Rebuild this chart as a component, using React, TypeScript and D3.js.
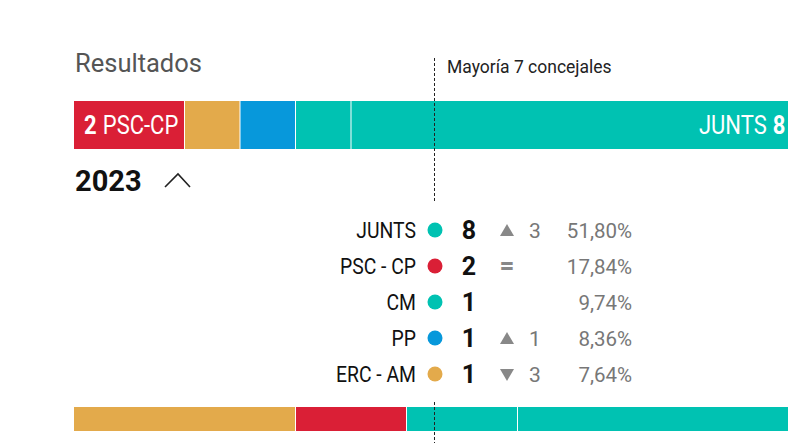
import React from "react";
import * as d3 from "d3";

const totalSeats = 13;
const majority = 7;
const year = "2023";

// table rows
const rowParties = ["JUNTS", "PSC - CP", "CM", "PP", "ERC - AM"];
const rowSeats = [8, 2, 1, 1, 1];
const rowChange: (number | null)[] = [3, 0, null, 1, -3];
const rowPct = ["51,80%", "17,84%", "9,74%", "8,36%", "7,64%"];
const rowColors = ["#00c2b2", "#da1f36", "#00c2b2", "#0798db", "#e3aa4b"];

// top (current) bar order
const barParties = ["PSC-CP", "ERC - AM", "PP", "CM", "JUNTS"];
const barSeats = [2, 1, 1, 1, 8];
const barColors = ["#da1f36", "#e3aa4b", "#0798db", "#00c2b2", "#00c2b2"];

// bottom (previous) bar
const prevParties = ["ERC - AM", "PSC - CP", "Otros", "JUNTS"];
const prevSeats = [4, 2, 2, 5];
const prevColors = ["#e3aa4b", "#da1f36", "#00c2b2", "#00c2b2"];

const FONT = "Roboto, 'Noto Sans', sans-serif";
const COND = 0.88;

function stack(seats: number[]) {
  let acc = 0;
  return seats.map((s) => {
    const r = { x0: acc, x1: acc + s };
    acc += s;
    return r;
  });
}

export default function App() {
  const x = d3.scaleLinear().domain([0, totalSeats]).range([74, 795.5]);
  const yRow = d3.scaleBand().domain(rowParties).range([212, 392]);
  const top = stack(barSeats);
  const prev = stack(prevSeats);
  const mx = Math.round(x(totalSeats / 2)) - 0.5;
  const first = top[0];
  const last = top[top.length - 1];

  return (
    <svg
      width={788}
      height={443}
      style={{ position: "absolute", left: 0, top: 0, background: "#fff" }}
      fontFamily={FONT}
    >
      <text x={75} y={72} fontSize={25.5} fill="#555">Resultados</text>
      <text x={447} y={73} fontSize={17.5} fill="#222">{`Mayoría ${majority} concejales`}</text>

      {top.map((d, i) => (
        <rect
          key={"t" + i}
          x={x(d.x0)}
          y={101}
          width={Math.max(0, x(d.x1) - x(d.x0) - 1)}
          height={48}
          fill={barColors[i]}
        />
      ))}
      <text transform={`translate(${x(first.x0) + 10},134) scale(${COND},1)`} fontSize={25} fill="#fff">
        <tspan fontWeight={700}>{barSeats[0]}</tspan>
        <tspan dx={7}>{barParties[0]}</tspan>
      </text>
      <text
        transform={`translate(${x(last.x1) - 10},134) scale(${COND},1)`}
        fontSize={25}
        fill="#fff"
        textAnchor="end"
      >
        <tspan>{barParties[barParties.length - 1]}</tspan>
        <tspan dx={7} fontWeight={700}>{barSeats[barSeats.length - 1]}</tspan>
      </text>

      <line x1={mx} x2={mx} y1={58} y2={203} stroke="#222" strokeDasharray="3,2" />

      <text x={75} y={191} fontSize={29} fontWeight={700} fill="#111">{year}</text>
      <polyline points="165,187 178,174 190,187" fill="none" stroke="#222" strokeWidth={1.6} />

      {rowParties.map((p, i) => {
        const cy = (yRow(p) as number) + yRow.bandwidth() / 2;
        const ch = rowChange[i];
        return (
          <g key={p}>
            <text
              transform={`translate(416,${cy + 8}) scale(${COND},1)`}
              fontSize={22}
              fill="#111"
              textAnchor="end"
            >
              {p}
            </text>
            <circle cx={435} cy={cy} r={7.5} fill={rowColors[i]} />
            <text x={469} y={cy + 9} fontSize={25} fontWeight={700} fill="#111" textAnchor="middle">
              {rowSeats[i]}
            </text>
            {ch !== null && ch > 0 && (
              <path d={`M${500},${cy + 6} L${514},${cy + 6} L${507},${cy - 6} Z`} fill="#888" />
            )}
            {ch !== null && ch < 0 && (
              <path d={`M${500},${cy - 5} L${514},${cy - 5} L${507},${cy + 7} Z`} fill="#888" />
            )}
            {ch === 0 && (
              <text x={507} y={cy + 8} fontSize={26} fontWeight={700} fill="#888" textAnchor="middle">=</text>
            )}
            {ch !== null && ch !== 0 && (
              <text x={529} y={cy + 7.5} fontSize={21} fill="#777">{Math.abs(ch)}</text>
            )}
            <text x={632} y={cy + 7.5} fontSize={20.5} fill="#777" textAnchor="end">{rowPct[i]}</text>
          </g>
        );
      })}

      {prev.map((d, i) => (
        <rect
          key={"p" + i}
          x={x(d.x0)}
          y={407}
          width={Math.max(0, x(d.x1) - x(d.x0) - 1)}
          height={24}
          fill={prevColors[i]}
        />
      ))}
      <line x1={mx} x2={mx} y1={402} y2={443} stroke="#222" strokeDasharray="3,2" />
    </svg>
  );
}
